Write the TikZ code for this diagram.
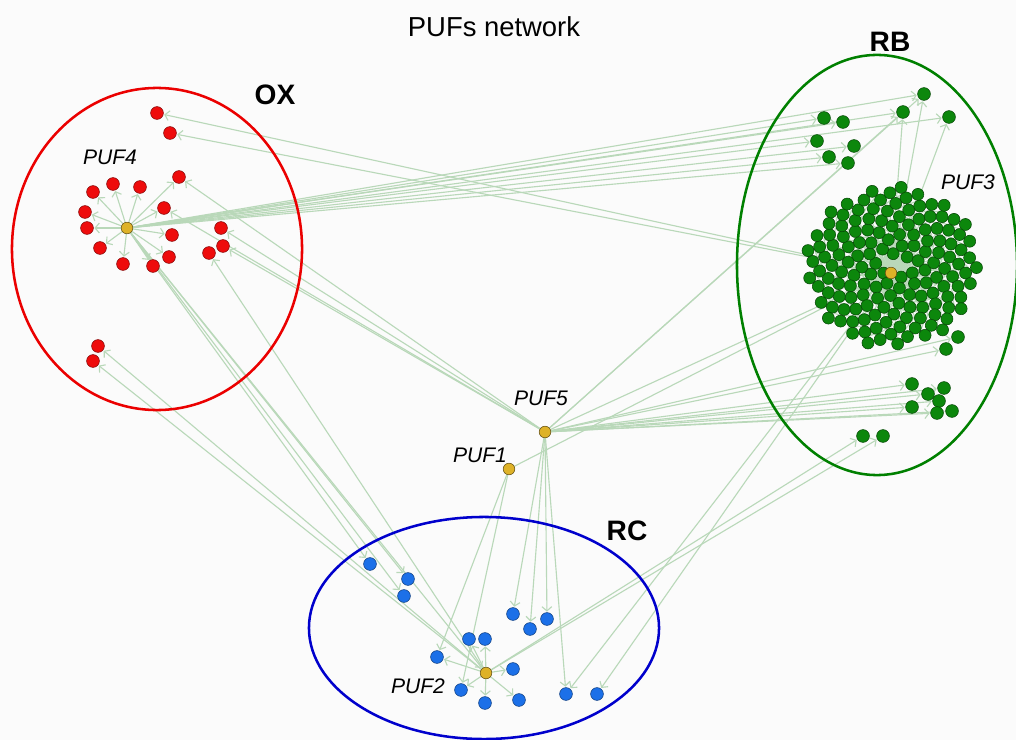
\documentclass[tikz,border=0pt]{standalone}
\usepackage{fontspec}
\setmainfont{Liberation Sans}
\usetikzlibrary{arrows.meta,backgrounds}

\definecolor{linkgreen}{RGB}{185,216,185}
\definecolor{oxred}{RGB}{238,12,12}
\definecolor{rbgreen}{RGB}{12,135,12}
\definecolor{rcblue}{RGB}{28,112,232}
\definecolor{pufgold}{RGB}{222,178,40}

\begin{document}
\begin{tikzpicture}[x=0.025cm,y=-0.025cm,>={Straight Barb[length=3pt,width=7pt]},
    dot/.style={circle,draw,line width=0.4pt,inner sep=0pt,minimum size=0.32cm},
    ox node/.style={dot,fill=oxred,draw=oxred!55!black},
    rb node/.style={dot,fill=rbgreen,draw=rbgreen!55!black},
    rc node/.style={dot,fill=rcblue,draw=rcblue!55!black},
    puf node/.style={dot,fill=pufgold,draw=pufgold!45!black,minimum size=0.29cm},
    link/.style={->,draw=linkgreen,line width=0.8pt,shorten >=0.5pt},
    puf label/.style={font=\itshape\fontsize{15}{18}\selectfont},
    group label/.style={font=\bfseries\fontsize{20}{24}\selectfont}]
    \useasboundingbox (0,0) rectangle (1016,740);

    % groups
    \draw[red!92!black,line width=1.8pt] (157,249) ellipse [x radius=3.625cm,y radius=4.025cm];
    \draw[green!50!black,line width=1.8pt] (877,265) ellipse [x radius=3.5cm,y radius=5.25cm];
    \draw[blue!80!black,line width=1.8pt] (484,628) ellipse [x radius=4.375cm,y radius=2.775cm];

    % OX
    \node[ox node] (r1) at (157,113) {};
    \node[ox node] (r2) at (170,133) {};
    \node[ox node] (r3) at (179,177) {};
    \node[ox node] (r4) at (113,184) {};
    \node[ox node] (r5) at (140,187) {};
    \node[ox node] (r6) at (93,192) {};
    \node[ox node] (r7) at (85,212) {};
    \node[ox node] (r8) at (164,208) {};
    \node[ox node] (r9) at (87,228) {};
    \node[ox node] (r10) at (172,235) {};
    \node[ox node] (r11) at (100,248) {};
    \node[ox node] (r12) at (169,257) {};
    \node[ox node] (r13) at (123,264) {};
    \node[ox node] (r14) at (153,266) {};
    \node[ox node] (r15) at (221,228) {};
    \node[ox node] (r16) at (223,246) {};
    \node[ox node] (r17) at (209,253) {};
    \node[ox node] (r18) at (98,346) {};
    \node[ox node] (r19) at (93,361) {};

    % RB
    \node[rb node] (g1) at (924,94) {};
    \node[rb node] (g2) at (903,112) {};
    \node[rb node] (g3) at (949,117) {};
    \node[rb node] (g4) at (824,118) {};
    \node[rb node] (g5) at (843,122) {};
    \node[rb node] (g6) at (817,141) {};
    \node[rb node] (g7) at (854,146) {};
    \node[rb node] (g8) at (829,157) {};
    \node[rb node] (g9) at (848,163) {};
    \node[rb node] (g10) at (958,337) {};
    \node[rb node] (g11) at (946,349) {};
    \node[rb node] (g12) at (912,384) {};
    \node[rb node] (g13) at (944,388) {};
    \node[rb node] (g14) at (928,394) {};
    \node[rb node] (g15) at (939,401) {};
    \node[rb node] (g16) at (912,407) {};
    \node[rb node] (g17) at (952,411) {};
    \node[rb node] (g18) at (937,413) {};
    \node[rb node] (g19) at (863,436) {};
    \node[rb node] (g20) at (883,436) {};
    \foreach \i in {1,...,150}{
      \pgfmathsetmacro\ang{10*mod(\i*13.7508,36)}
      \pgfmathsetmacro\rad{7.0*sqrt(\i+1.6)}
      \node[rb node,minimum size=0.3cm] (c\i) at ({892+\rad*cos(\ang)},{266+0.93*\rad*sin(\ang)}) {};
    }

    % RC
    \node[rc node] (b1) at (370,564) {};
    \node[rc node] (b2) at (408,579) {};
    \node[rc node] (b3) at (404,596) {};
    \node[rc node] (b4) at (513,614) {};
    \node[rc node] (b5) at (547,619) {};
    \node[rc node] (b6) at (530,629) {};
    \node[rc node] (b7) at (469,639) {};
    \node[rc node] (b8) at (485,639) {};
    \node[rc node] (b9) at (437,657) {};
    \node[rc node] (b10) at (513,669) {};
    \node[rc node] (b11) at (461,690) {};
    \node[rc node] (b12) at (519,700) {};
    \node[rc node] (b13) at (485,703) {};
    \node[rc node] (b14) at (566,694) {};
    \node[rc node] (b15) at (597,694) {};

    % PUFs
    \node[puf node] (p1) at (509,469) {};
    \node[puf node] (p2) at (486,673) {};
    \node[puf node] (p3) at (891,273) {};
    \node[puf node] (p4) at (127,228) {};
    \node[puf node] (p5) at (545,432) {};

    % labels
    \node (title) at (494,27) {\fontsize{19.5}{23}\selectfont PUFs network};
    \node[group label] (ox) at (275,95) {OX};
    \node[group label] (rb) at (890,42) {RB};
    \node[group label] (rc) at (627,531) {RC};
    \node[puf label] (l4) at (110,157) {PUF4};
    \node[puf label] (l3) at (968,182) {PUF3};
    \node[puf label] (l5) at (541,398) {PUF5};
    \node[puf label] (l1) at (480,455) {PUF1};
    \node[puf label] (l2) at (418,686) {PUF2};

    \begin{scope}[on background layer]
    \fill[gray!3] (0,0) rectangle (1016,740);
    \foreach \i in {1,...,150} \path[link] (p3) edge (c\i);
    \path[link]
    (p4) edge (r3) edge (r4) edge (r5) edge (r6) edge (r7) edge (r8)
         edge (r9) edge (r10) edge (r11) edge (r12) edge (r13) edge (r14)
    (p4) edge (g1) edge (g2) edge (g3) edge (g4) edge (g5) edge (g6)
         edge (g7) edge (g8) edge (g9)
    (p4) edge (b1) edge (b2) edge (b3) edge (p2)
    (p3) edge (r1) edge (r2) edge (g1) edge (g2) edge (g3)
         edge (b14) edge (b15)
    (p5) edge (r3) edge (r8) edge (r15) edge (r16)
    (p5) edge (g1) edge (g2) edge (g10) edge (g11) edge (g12) edge (g13)
         edge (g14) edge (g15) edge (g16) edge (g17) edge (g18) edge (p3)
    (p5) edge (b4) edge (b5) edge (b6) edge (b14)
    (p1) edge (b9) edge (b11) edge (p3)
    (p2) edge (b7) edge (b8) edge (b9) edge (b10) edge (b11) edge (b12) edge (b13)
    (p2) edge (r17) edge (r18) edge (r19) edge (g19) edge (g20);
    \end{scope}
\end{tikzpicture}
\end{document}
